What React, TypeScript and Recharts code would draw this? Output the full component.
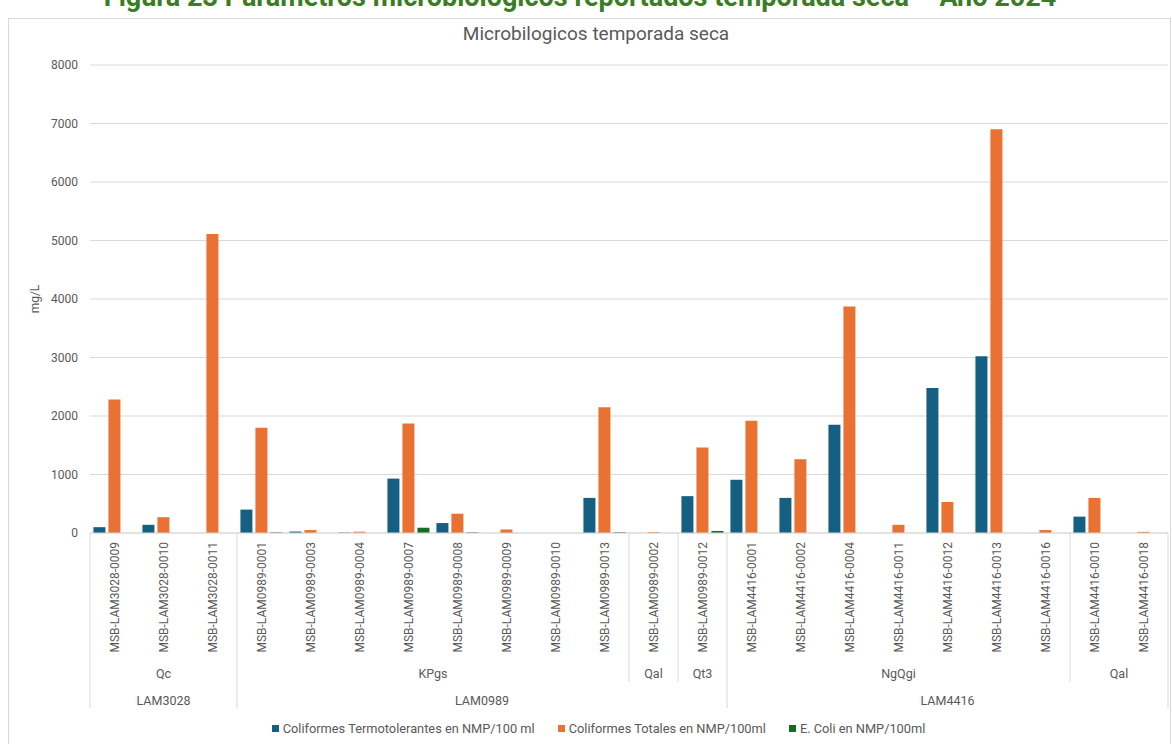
import React from 'react';
import { BarChart, Bar, XAxis, YAxis, CartesianGrid, Legend } from 'recharts';

const categories = [
  'MSB-LAM3028-0009', 'MSB-LAM3028-0010', 'MSB-LAM3028-0011',
  'MSB-LAM0989-0001', 'MSB-LAM0989-0003', 'MSB-LAM0989-0004', 'MSB-LAM0989-0007',
  'MSB-LAM0989-0008', 'MSB-LAM0989-0009', 'MSB-LAM0989-0010', 'MSB-LAM0989-0013',
  'MSB-LAM0989-0002', 'MSB-LAM0989-0012',
  'MSB-LAM4416-0001', 'MSB-LAM4416-0002', 'MSB-LAM4416-0004', 'MSB-LAM4416-0011',
  'MSB-LAM4416-0012', 'MSB-LAM4416-0013', 'MSB-LAM4416-0016',
  'MSB-LAM4416-0010', 'MSB-LAM4416-0018',
];

const termotolerantes = [100, 140, 0, 400, 25, 8, 930, 170, 0, 0, 600, 0, 630, 910, 600, 1850, 0, 2480, 3020, 0, 280, 0];
const totales = [2280, 270, 5110, 1800, 50, 22, 1870, 330, 60, 0, 2150, 15, 1460, 1920, 1260, 3870, 140, 530, 6900, 50, 600, 20];
const eColi = [0, 0, 0, 10, 0, 0, 90, 10, 0, 0, 12, 0, 35, 0, 0, 0, 0, 0, 0, 0, 0, 0];

// geology unit (first level) and site (second level)
const level1Groups = [
  { label: 'Qc', count: 3 },
  { label: 'KPgs', count: 8 },
  { label: 'Qal', count: 1 },
  { label: 'Qt3', count: 1 },
  { label: 'NgQgi', count: 7 },
  { label: 'Qal', count: 2 },
];
const level2Groups = [
  { label: 'LAM3028', count: 3 },
  { label: 'LAM0989', count: 10 },
  { label: 'LAM4416', count: 9 },
];

const yTicks = [0, 1000, 2000, 3000, 4000, 5000, 6000, 7000, 8000];

const seriesNames = {
  termo: 'Coliformes Termotolerantes en NMP/100 ml',
  totales: 'Coliformes Totales en NMP/100ml',
  ecoli: 'E. Coli en NMP/100ml',
};

const COLORS = { termo: '#156082', totales: '#E97132', ecoli: '#196B24' };
const TEXT = '#595959';
const LINE = '#d9d9d9';
const FONT = 'Roboto, "Noto Sans", sans-serif';

const CHART_W = 1160;
const CHART_H = 729;
const MARGIN = { top: 46, right: 1, left: 0, bottom: 0 };
const Y_AXIS_W = 81;
const BAND = (CHART_W - MARGIN.left - MARGIN.right - Y_AXIS_W) / categories.length;

function startsOf(groups: { label: string; count: number }[]) {
  const res: number[] = [];
  let s = 0;
  groups.forEach((g) => {
    res.push(s);
    s += g.count;
  });
  return res;
}

const level1Starts = startsOf(level1Groups);
const level2Starts = startsOf(level2Groups);

const data = categories.map((name, i) => ({
  name,
  termo: termotolerantes[i],
  totales: totales[i],
  ecoli: eColi[i],
}));

function CategoryTick(props: any) {
  const { x, y, payload } = props;
  const i = payload.index;
  const half = BAND / 2;
  const left = x - half;
  const items: React.ReactNode[] = [];

  if (level2Starts.includes(i)) {
    items.push(<line key="l2" x1={left} x2={left} y1={y} y2={y + 175} stroke={LINE} />);
  } else if (level1Starts.includes(i)) {
    items.push(<line key="l1" x1={left} x2={left} y1={y} y2={y + 149} stroke={LINE} />);
  }
  if (i === categories.length - 1) {
    items.push(<line key="end" x1={x + half} x2={x + half} y1={y} y2={y + 175} stroke={LINE} />);
  }

  const g1 = level1Starts.indexOf(i);
  if (g1 >= 0) {
    items.push(
      <text key="t1" x={left + (level1Groups[g1].count * BAND) / 2} y={y + 140} textAnchor="middle"
        dominantBaseline="central" fill={TEXT} fontSize={12.5} fontFamily={FONT}>
        {level1Groups[g1].label}
      </text>
    );
  }
  const g2 = level2Starts.indexOf(i);
  if (g2 >= 0) {
    items.push(
      <text key="t2" x={left + (level2Groups[g2].count * BAND) / 2} y={y + 167} textAnchor="middle"
        dominantBaseline="central" fill={TEXT} fontSize={12.5} fontFamily={FONT}>
        {level2Groups[g2].label}
      </text>
    );
  }

  return (
    <g>
      <text x={x} y={y + 9} transform={`rotate(-90, ${x}, ${y + 9})`} textAnchor="end"
        dominantBaseline="central" fill={TEXT} fontSize={12} fontFamily={FONT}>
        {payload.value}
      </text>
      {items}
    </g>
  );
}

function LegendContent(props: any) {
  const { payload } = props;
  return (
    <div style={{ height: 40, display: 'flex', alignItems: 'center', justifyContent: 'center', gap: 23, paddingLeft: 20, fontFamily: FONT, fontSize: 12.8, color: TEXT }}>
      {(payload || []).map((p: any) => (
        <div key={p.value} style={{ display: 'flex', alignItems: 'center' }}>
          <span style={{ width: 7, height: 7, background: p.color, marginRight: 4, display: 'inline-block' }} />
          <span>{p.value}</span>
        </div>
      ))}
    </div>
  );
}

export default function App() {
  return (
    <div style={{ position: 'absolute', left: 0, top: 0, width: 1172, height: 744, overflow: 'hidden', background: '#fff', fontFamily: FONT }}>
      <div style={{ position: 'absolute', left: 0, width: 1172, top: -16, textAlign: 'center', fontSize: 27, lineHeight: '27px', fontWeight: 700, color: '#3a7d22', paddingRight: 12, boxSizing: 'border-box', whiteSpace: 'nowrap' }}>
        Figura 23 Parámetros microbiológicos reportados temporada seca – Año 2024
      </div>
      <div style={{ position: 'absolute', left: 8, top: 18, width: 1163, height: 740, border: `1px solid ${LINE}`, boxSizing: 'border-box' }} />
      <div style={{ position: 'absolute', left: 596, top: 22, transform: 'translateX(-50%)', fontSize: 19, color: TEXT, whiteSpace: 'nowrap', lineHeight: '24px' }}>
        Microbilogicos temporada seca
      </div>
      <div style={{ position: 'absolute', left: 9, top: 19 }}>
        <BarChart width={CHART_W} height={CHART_H} data={data} margin={MARGIN} barGap={3} barCategoryGap="7%">
          <CartesianGrid vertical={false} stroke={LINE} />
          <XAxis
            dataKey="name"
            interval={0}
            height={175}
            tickSize={0}
            tickMargin={0}
            tickLine={false}
            axisLine={{ stroke: LINE }}
            tick={<CategoryTick />}
          />
          <YAxis
            width={Y_AXIS_W}
            domain={[0, 8000]}
            ticks={yTicks}
            axisLine={false}
            tickLine={false}
            tickSize={6}
            tickMargin={6}
            tick={{ fill: TEXT, fontSize: 12, fontFamily: FONT }}
            label={{ value: 'mg/L', angle: -90, position: 'insideLeft', offset: 26, fill: TEXT, fontSize: 12, style: { textAnchor: 'middle' } }}
          />
          <Legend verticalAlign="bottom" content={<LegendContent />} />
          <Bar dataKey="termo" name={seriesNames.termo} fill={COLORS.termo} isAnimationActive={false} />
          <Bar dataKey="totales" name={seriesNames.totales} fill={COLORS.totales} isAnimationActive={false} />
          <Bar dataKey="ecoli" name={seriesNames.ecoli} fill={COLORS.ecoli} isAnimationActive={false} />
        </BarChart>
      </div>
    </div>
  );
}
